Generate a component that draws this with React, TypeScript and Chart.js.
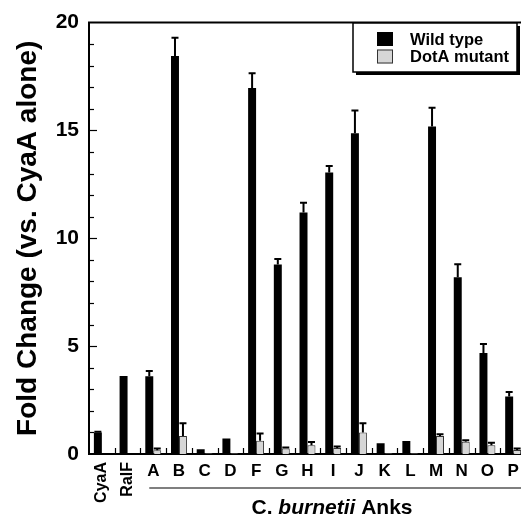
import React, { useEffect, useRef } from "react";
import { Chart, registerables } from "chart.js";

Chart.register(...registerables);

const categories = ["CyaA", "RalF", "A", "B", "C", "D", "F", "G", "H", "I", "J", "K", "L", "M", "N", "O", "P"];
const rotatedLabels = ["CyaA", "RalF"];
const wildType = [1.0, 3.62, 3.6, 18.45, 0.22, 0.72, 16.97, 8.78, 11.2, 13.05, 14.87, 0.5, 0.6, 15.18, 8.2, 4.68, 2.66];
const wildTypeErr = [0.03, 0, 0.25, 0.85, 0, 0, 0.68, 0.26, 0.45, 0.3, 1.05, 0, 0, 0.87, 0.6, 0.42, 0.22];
const dotA = [null, null, 0.17, 0.83, 0.03, 0.03, 0.62, 0.25, 0.4, 0.28, 1.0, 0.03, 0.03, 0.84, 0.57, 0.41, 0.18];
const dotAErr = [0, 0, 0.09, 0.6, 0, 0, 0.33, 0.05, 0.16, 0.07, 0.42, 0, 0, 0.08, 0.07, 0.11, 0.07];
const yTicksMajor = [0, 5, 10, 15, 20];
const seriesNames = ["Wild type", "DotA mutant"];
const groupTitle = ["C. ", "burnetii", " Anks"];
const yTitle = "Fold Change (vs. CyaA alone)";

const FONT = "'Liberation Sans', Arial, sans-serif";

const errorBarPlugin = {
  id: "errorBars",
  afterDatasetsDraw(chart: any) {
    const ctx = chart.ctx;
    const yScale = chart.scales.y;
    const errs = [wildTypeErr, dotAErr];
    chart.data.datasets.forEach((ds: any, di: number) => {
      const meta = chart.getDatasetMeta(di);
      meta.data.forEach((el: any, i: number) => {
        const v = ds.data[i];
        const e = errs[di][i];
        if (v == null || !e) return;
        const yTop = yScale.getPixelForValue(v + e);
        ctx.save();
        ctx.strokeStyle = "#000";
        ctx.lineWidth = 2;
        ctx.beginPath();
        ctx.moveTo(el.x, el.y);
        ctx.lineTo(el.x, yTop);
        ctx.moveTo(el.x - 3.5, yTop);
        ctx.lineTo(el.x + 3.5, yTop);
        ctx.stroke();
        ctx.restore();
      });
    });
  },
};

const decorPlugin = {
  id: "decor",
  afterDraw(chart: any) {
    const ctx = chart.ctx;
    const { left, right, top, bottom } = chart.chartArea;
    const xScale = chart.scales.x;
    const yScale = chart.scales.y;
    ctx.save();
    // top border
    ctx.strokeStyle = "#000";
    ctx.lineWidth = 2;
    ctx.beginPath();
    ctx.moveTo(left - 1, top);
    ctx.lineTo(right, top);
    ctx.stroke();
    // y ticks inside
    for (let v = 1; v < 20; v++) {
      const y = Math.round(yScale.getPixelForValue(v)) + 0.5;
      const len = yTicksMajor.includes(v) ? 8 : 5;
      ctx.lineWidth = 1.2;
      ctx.beginPath();
      ctx.moveTo(left, y);
      ctx.lineTo(left + len, y);
      ctx.stroke();
    }
    // x ticks at group boundaries
    const n = categories.length;
    const gw = (right - left) / n;
    for (let i = 1; i < n; i++) {
      const x = Math.round(left + i * gw) + 0.5;
      ctx.lineWidth = 1.2;
      ctx.beginPath();
      ctx.moveTo(x, bottom);
      ctx.lineTo(x, bottom - 6);
      ctx.stroke();
    }
    // x labels
    ctx.fillStyle = "#000";
    categories.forEach((c, i) => {
      const x = xScale.getPixelForValue(i);
      if (rotatedLabels.includes(c)) {
        ctx.save();
        ctx.translate(x, bottom + 8);
        ctx.rotate(-Math.PI / 2);
        ctx.font = `bold 16px ${FONT}`;
        ctx.textAlign = "right";
        ctx.textBaseline = "middle";
        ctx.fillText(c, 0, 0);
        ctx.restore();
      } else {
        ctx.font = `bold 17px ${FONT}`;
        ctx.textAlign = "center";
        ctx.textBaseline = "middle";
        ctx.fillText(c, x, bottom + 17);
      }
    });
    // underline for Anks group
    const x0 = xScale.getPixelForValue(2) - 4;
    ctx.strokeStyle = "#555";
    ctx.lineWidth = 1.5;
    ctx.beginPath();
    ctx.moveTo(x0, bottom + 34);
    ctx.lineTo(right + 20, bottom + 34);
    ctx.stroke();
    // group title
    const fN = `bold 21px ${FONT}`;
    const fI = `italic bold 21px ${FONT}`;
    const fonts = [fN, fI, fN];
    let total = 0;
    const widths = groupTitle.map((t, k) => {
      ctx.font = fonts[k];
      const w = ctx.measureText(t).width;
      total += w;
      return w;
    });
    let tx = 332 - total / 2;
    ctx.textAlign = "left";
    ctx.textBaseline = "alphabetic";
    groupTitle.forEach((t, k) => {
      ctx.font = fonts[k];
      ctx.fillText(t, tx, 514);
      tx += widths[k];
    });
    // legend
    const lx = 353, ly = 23, lw = 164, lh = 49;
    ctx.fillStyle = "#000";
    ctx.fillRect(lx + 3, ly + 3, lw, lh);
    ctx.fillStyle = "#fff";
    ctx.fillRect(lx, ly, lw, lh);
    ctx.strokeStyle = "#000";
    ctx.lineWidth = 1.5;
    ctx.strokeRect(lx, ly, lw, lh);
    chart.data.datasets.forEach((ds: any, k: number) => {
      const sy = ly + 9 + k * 17.5;
      ctx.fillStyle = ds.backgroundColor;
      ctx.fillRect(lx + 24, sy, 16, 14);
      ctx.strokeStyle = ds.borderColor;
      ctx.lineWidth = 1;
      ctx.strokeRect(lx + 24.5, sy + 0.5, 15, 13);
      ctx.fillStyle = "#000";
      ctx.font = `bold 16.5px ${FONT}`;
      ctx.textAlign = "left";
      ctx.textBaseline = "middle";
      ctx.fillText(ds.label, lx + 57, sy + 8);
    });
    ctx.restore();
  },
};

export default function App() {
  const ref = useRef<HTMLCanvasElement | null>(null);
  useEffect(() => {
    if (!ref.current) return;
    const chart = new Chart(ref.current, {
      type: "bar",
      data: {
        labels: categories,
        datasets: [
          {
            label: seriesNames[0],
            data: wildType,
            backgroundColor: "#000",
            borderColor: "#000",
            borderWidth: 0,
            categoryPercentage: 0.62,
            barPercentage: 1,
          },
          {
            label: seriesNames[1],
            data: dotA as any,
            backgroundColor: "#d6d6d6",
            borderColor: "#333",
            borderWidth: 1,
            categoryPercentage: 0.62,
            barPercentage: 1,
          },
        ],
      },
      options: {
        animation: false,
        responsive: false,
        devicePixelRatio: 1,
        layout: { padding: { left: 0, top: 18, right: 14, bottom: 0 } },
        plugins: { legend: { display: false }, tooltip: { enabled: false } },
        scales: {
          x: {
            grid: { display: false },
            border: { display: true, color: "#000", width: 2 },
            ticks: { display: false },
            afterFit: (s: any) => {
              s.height = 62;
            },
          },
          y: {
            min: 0,
            max: 20,
            grid: { display: false, drawTicks: false },
            border: { display: true, color: "#000", width: 2 },
            ticks: {
              stepSize: 5,
              color: "#000",
              padding: 10,
              font: { family: FONT, size: 21, weight: "bold" },
            },
            title: {
              display: true,
              text: yTitle,
              color: "#000",
              font: { family: FONT, size: 28, weight: "bold" },
              padding: { top: 11, bottom: 0 },
            },
            afterFit: (s: any) => {
              s.width = 89;
            },
          },
        },
      },
      plugins: [errorBarPlugin, decorPlugin],
    } as any);
    return () => chart.destroy();
  }, []);
  return (
    <div
      style={{
        position: "fixed",
        left: 0,
        top: 0,
        width: 521,
        height: 516,
        overflow: "hidden",
        background: "#fff",
      }}
    >
      <canvas ref={ref} width={540} height={516} style={{ display: "block" }} />
    </div>
  );
}
